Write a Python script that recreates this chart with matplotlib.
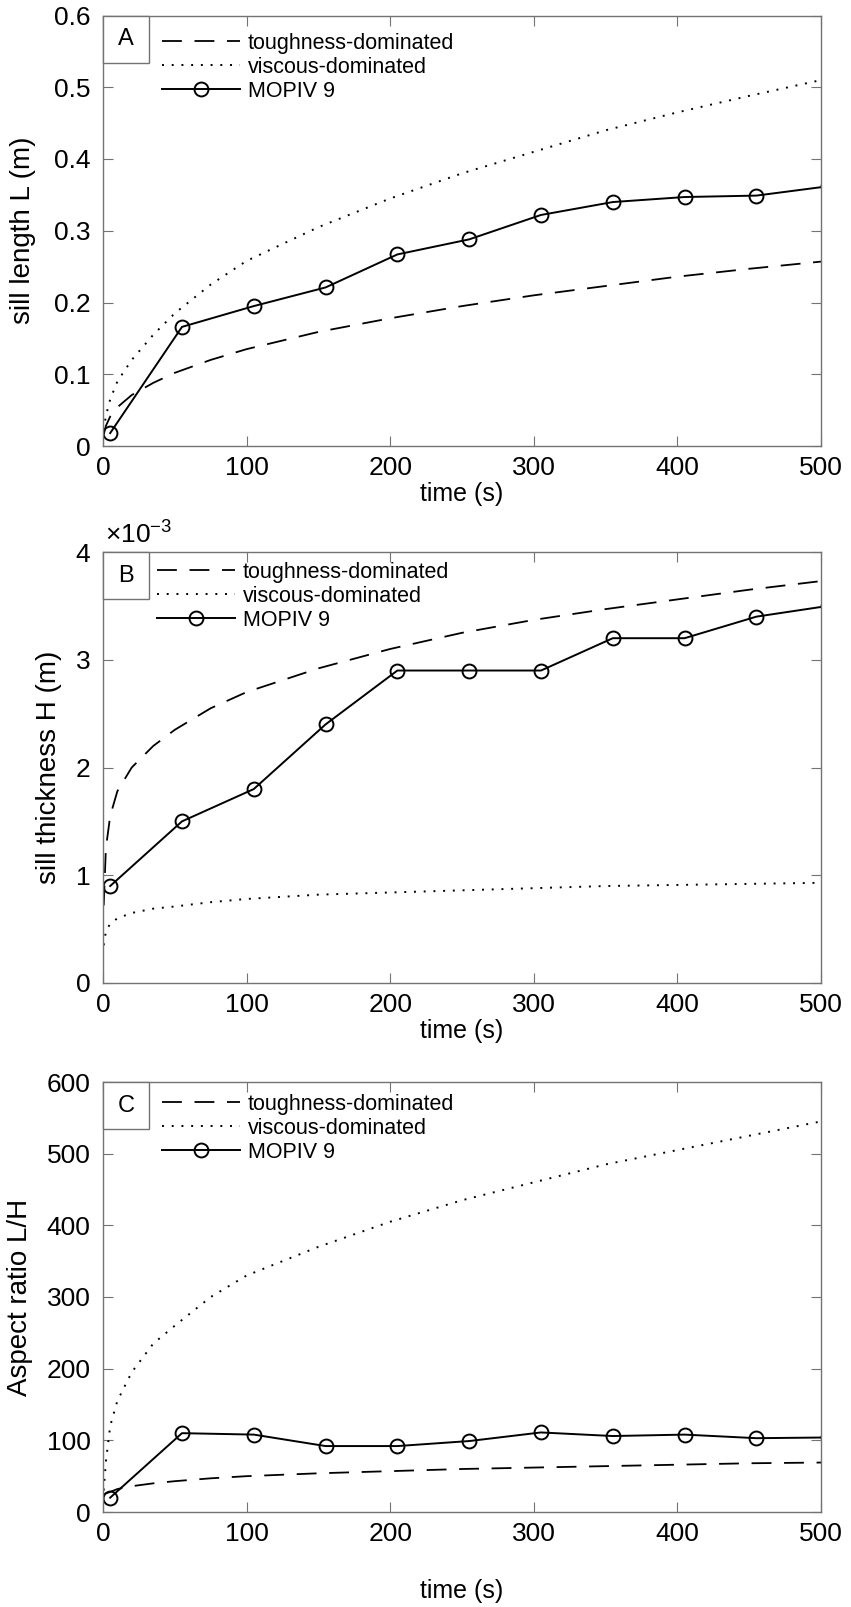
import numpy as np
import matplotlib
matplotlib.use("Agg")
import matplotlib.pyplot as plt
import matplotlib.patches as patches

plt.rcParams['font.family'] = ['Liberation Sans', 'DejaVu Sans']
plt.rcParams['mathtext.fontset'] = 'custom'
plt.rcParams['mathtext.rm'] = 'Liberation Sans'
plt.rcParams['mathtext.it'] = 'Liberation Sans'

# measured sill (MOPIV 9)
t_mopiv = [5, 55, 105, 155, 205, 255, 305, 355, 405, 455, 505]
L_mopiv = [0.018, 0.166, 0.195, 0.221, 0.267, 0.288, 0.322, 0.340, 0.347, 0.349, 0.362]
H_mopiv = [0.0009, 0.0015, 0.0018, 0.0024, 0.0029, 0.0029, 0.0029, 0.0032, 0.0032, 0.0034, 0.0035]
AR_mopiv = [20, 110, 108, 92, 92, 99, 111, 106, 108, 103, 104]

# model curves
t_model = [0.5, 2, 5, 10, 20, 35, 50, 75, 100, 150, 200, 250, 300, 350, 400, 450, 500]
L_tough = [0.016, 0.028, 0.041, 0.054, 0.071, 0.088, 0.102, 0.120, 0.135, 0.159, 0.178,
           0.195, 0.210, 0.223, 0.236, 0.247, 0.257]
L_visc = [0.022, 0.042, 0.065, 0.090, 0.120, 0.155, 0.185, 0.225, 0.258, 0.305, 0.345,
          0.380, 0.410, 0.440, 0.465, 0.488, 0.510]
H_tough = [0.00072, 0.00125, 0.00155, 0.00178, 0.00200, 0.00220, 0.00235, 0.00255, 0.00270,
           0.00292, 0.00310, 0.00325, 0.00337, 0.00347, 0.00356, 0.00365, 0.00373]
H_visc = [0.00035, 0.00048, 0.00055, 0.00060, 0.00065, 0.00069, 0.00071, 0.00075, 0.00078,
          0.00082, 0.00084, 0.00086, 0.00088, 0.00090, 0.00091, 0.00092, 0.00093]
AR_tough = [24, 26, 28, 32, 36, 40, 43, 47, 50, 54, 57, 60, 62, 64, 66, 68, 69]
AR_visc = [30, 70, 120, 155, 195, 235, 260, 300, 330, 370, 405, 435, 460, 485, 505, 525, 545]

labels = ['toughness-dominated', 'viscous-dominated', 'MOPIV 9']
panels = ['A', 'B', 'C']
ylabels = ['sill length L (m)', 'sill thickness H (m)', 'Aspect ratio L/H']
xticks = [0, 100, 200, 300, 400, 500]

W, Hpx = 851, 1607
fig = plt.figure(figsize=(W / 100, Hpx / 100), dpi=100)

left, right = 103, 821
boxes = [(15.5, 446), (552, 983), (1082, 1512)]
spine_col = '0.45'

series = [(L_tough, L_visc, L_mopiv), (H_tough, H_visc, H_mopiv), (AR_tough, AR_visc, AR_mopiv)]
ylims = [(0, 0.6), (0, 0.004), (0, 600)]
yticks = [np.arange(0, 0.61, 0.1), np.arange(0, 0.0041, 0.001), np.arange(0, 601, 100)]
ytick_labels = [['0', '0.1', '0.2', '0.3', '0.4', '0.5', '0.6'],
                ['0', '1', '2', '3', '4'],
                ['0', '100', '200', '300', '400', '500', '600']]
ylabel_right = [36, 62, 33]
xlabel_top = [36, 36, 67]
legend_left = [162, 157, 162]
legend_top = [17, 10, 12]

for k in range(3):
    top, bot = boxes[k]
    ah = bot - top
    aw = right - left
    ax = fig.add_axes([left / W, 1 - bot / Hpx, aw / W, ah / Hpx])
    tough, visc, meas = series[k]
    ax.plot(t_model, tough, color='k', lw=1.3, dashes=(11, 7), label=labels[0])
    ax.plot(t_model, visc, color='k', lw=1.4, dashes=(1, 4), label=labels[1])
    ax.plot(t_mopiv, meas, color='k', lw=1.4, marker='o', ms=10, mfc='none', mew=1.4,
            label=labels[2])
    ax.set_xlim(0, 500)
    ax.set_ylim(*ylims[k])
    ax.set_xticks(xticks)
    ax.set_xticklabels([str(v) for v in xticks])
    ax.set_yticks(yticks[k])
    ax.set_yticklabels(ytick_labels[k])
    ax.tick_params(direction='in', top=True, right=True, length=7, width=0.8,
                   color=spine_col, labelsize=19)
    ax.tick_params(axis='y', pad=9)
    ax.tick_params(axis='x', pad=7)
    for s in ax.spines.values():
        s.set_color(spine_col)
        s.set_linewidth(1.0)
    ax.set_ylabel(ylabels[k], fontsize=20)
    ax.yaxis.set_label_coords((ylabel_right[k] - left) / aw, 0.5)
    ax.set_xlabel('time (s)', fontsize=18)
    ax.xaxis.set_label_coords(0.5, -xlabel_top[k] / ah)

    ax.legend(loc='upper left',
              bbox_to_anchor=((legend_left[k] - left) / aw, 1 - legend_top[k] / ah),
              frameon=False, borderaxespad=0, borderpad=0, handlelength=3.6,
              handletextpad=0.4, labelspacing=0.14, fontsize=15.5)

    bw, bh = 46 / aw, 47 / ah
    ax.add_patch(patches.Rectangle((0, 1 - bh), bw, bh, transform=ax.transAxes,
                                   fill=True, facecolor='white', edgecolor=spine_col,
                                   lw=1.0, zorder=5, clip_on=False))
    ax.text(bw / 2, 1 - bh / 2, panels[k], transform=ax.transAxes, ha='center',
            va='center', fontsize=17, zorder=6)

    if k == 1:
        ax.text(2 / aw, 1 + 8 / ah, r'$\times\mathregular{10^{-3}}$', transform=ax.transAxes,
                ha='left', va='baseline', fontsize=19)

fig.savefig('out.png', dpi=100)
